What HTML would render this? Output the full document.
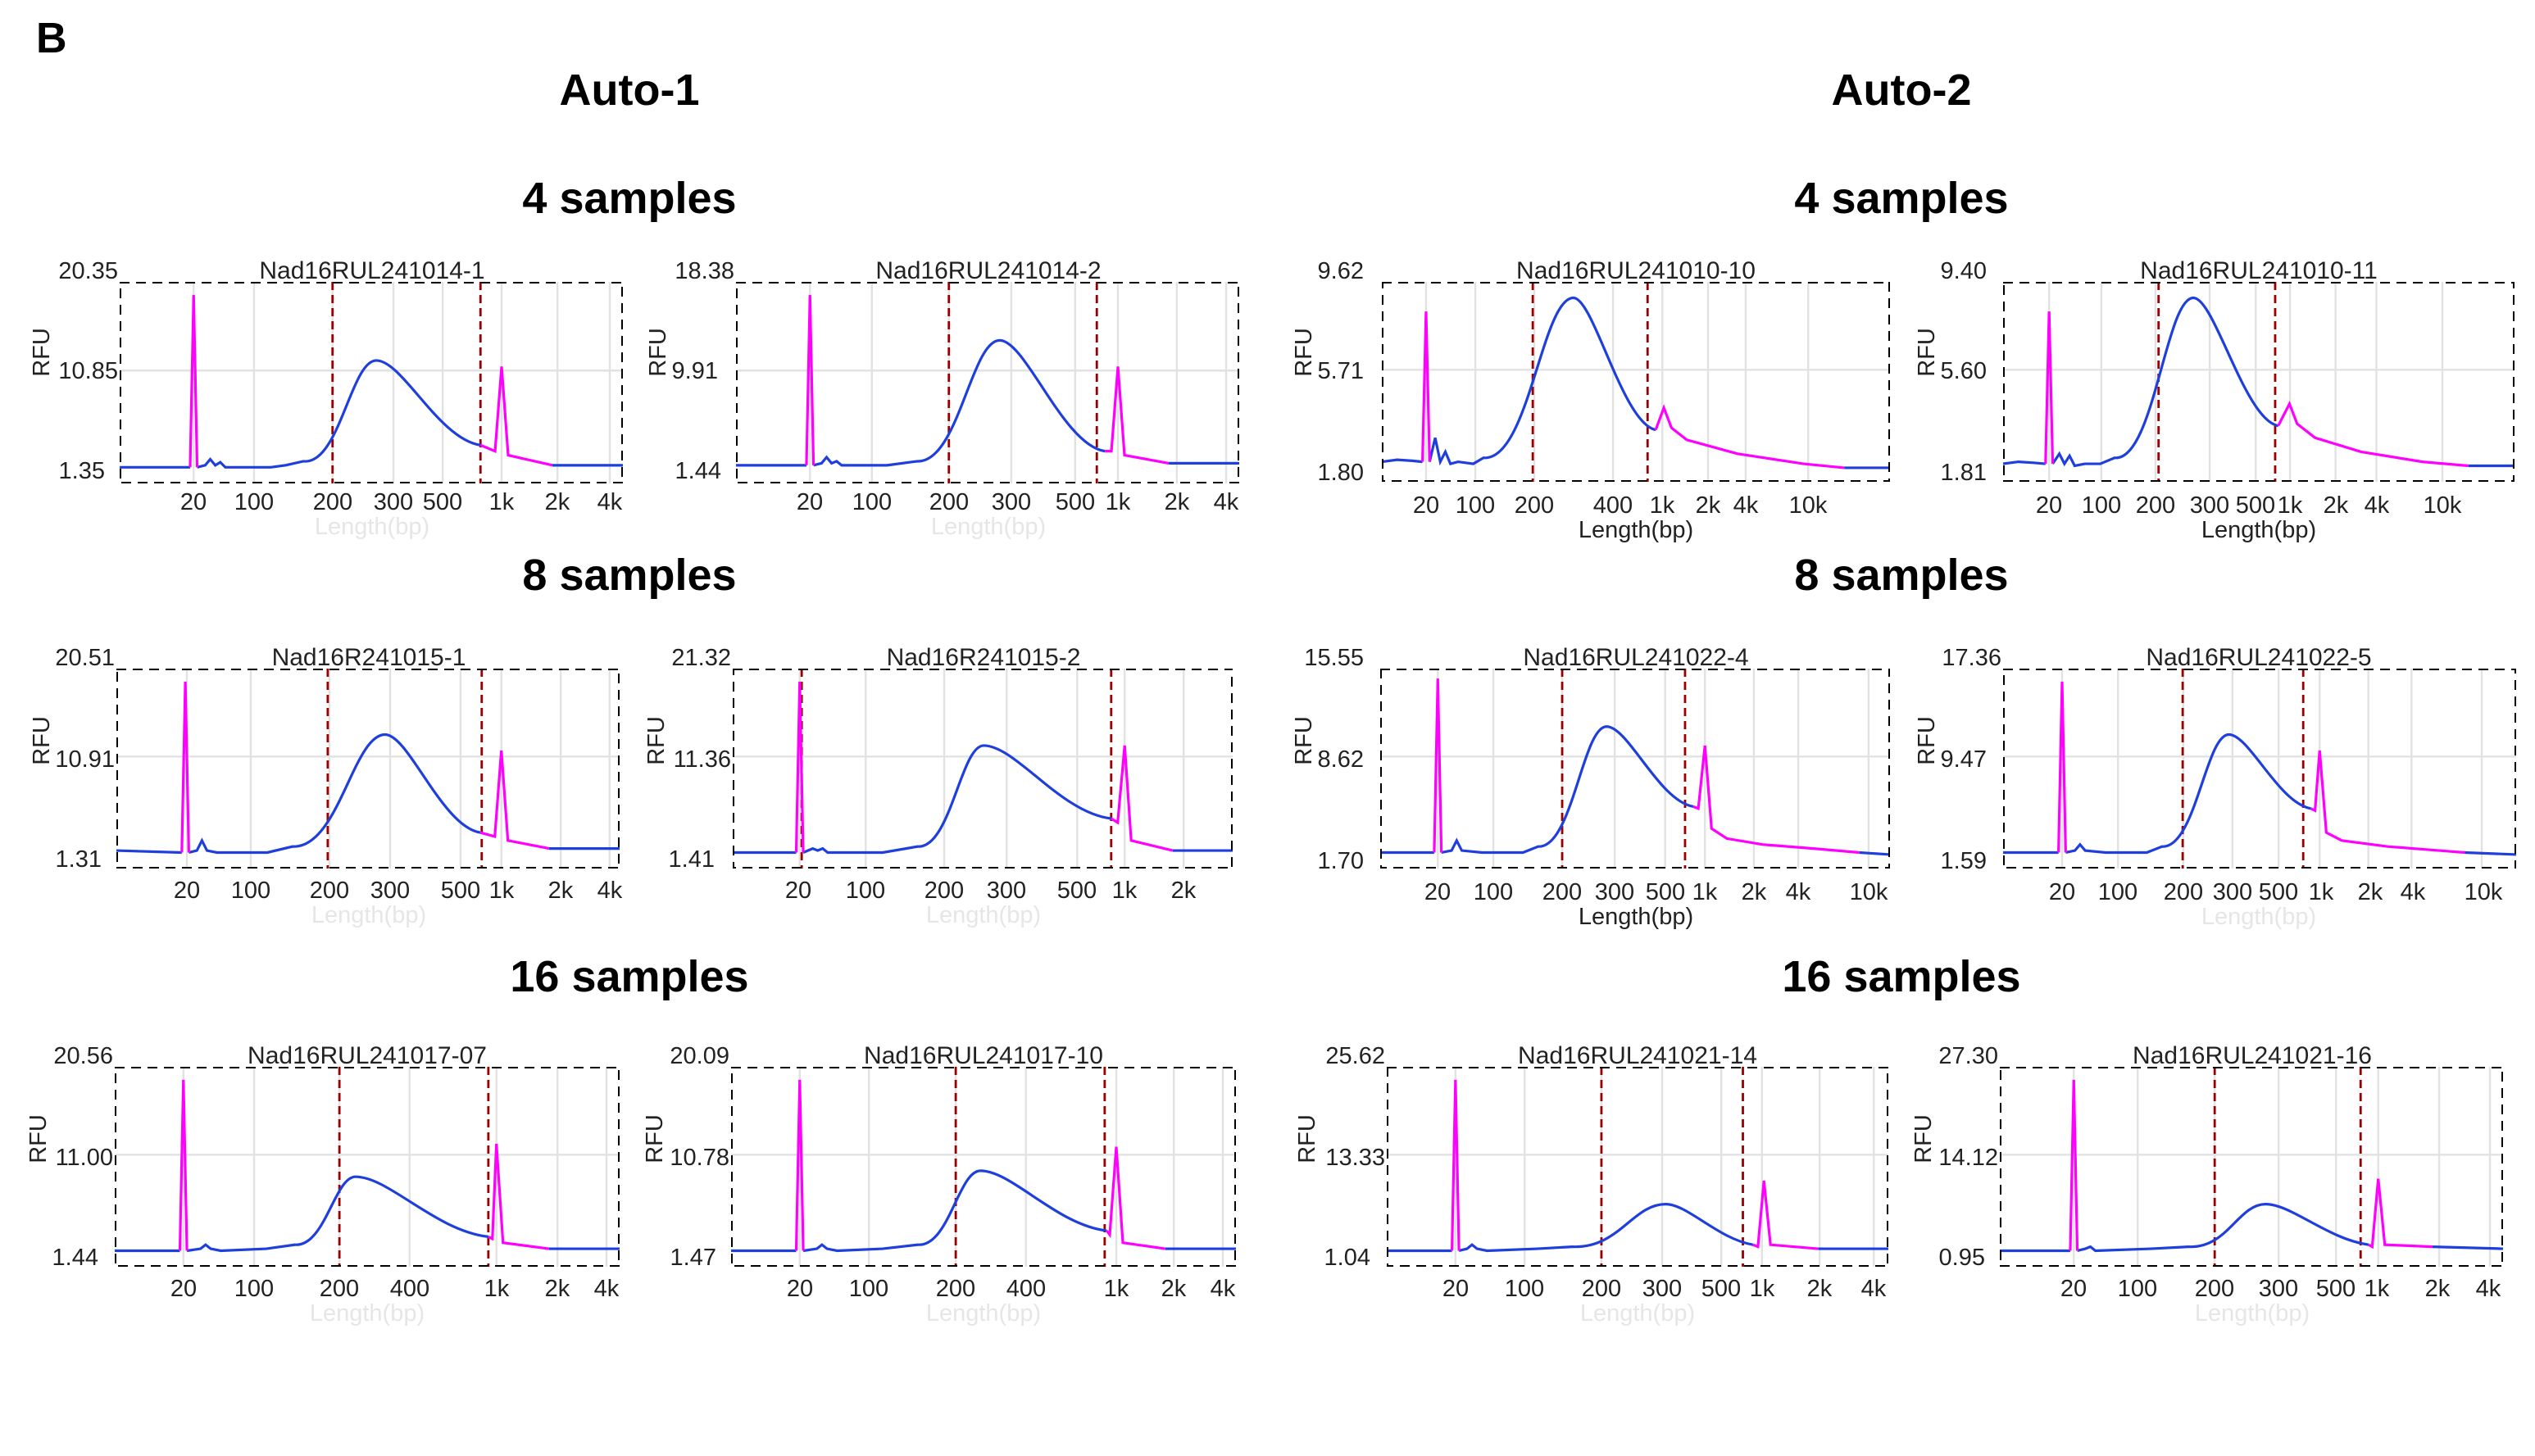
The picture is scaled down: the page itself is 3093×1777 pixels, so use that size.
<!DOCTYPE html>
<html><head><meta charset="utf-8"><style>
html,body{margin:0;padding:0;background:#fff}
svg.p *{vector-effect:non-scaling-stroke;fill:none}
.t{font-family:"Liberation Sans Narrow","Liberation Sans",sans-serif;font-size:14.5px;fill:#222}
.h{font-family:"Liberation Sans",sans-serif;font-weight:bold;font-size:27px;fill:#000;text-anchor:middle}
.b{stroke:#1f3fdc;stroke-width:3.2}
.m{stroke:#ff00ff;stroke-width:3.2}
.r{stroke:#9a0000;stroke-width:2.8;stroke-dasharray:10 6}
.g{stroke:#e2e2e2;stroke-width:2.4}
.bx{stroke:#000;stroke-width:4;stroke-dasharray:12 8}
.c{text-anchor:middle}.e{text-anchor:end}
.lg{fill:#e6e6e6}
</style></head><body>
<svg width="3093" height="1772" viewBox="0 0 1546.5 886" xmlns="http://www.w3.org/2000/svg">
<text x="22" y="32" style="font-family:'Liberation Sans',sans-serif;font-weight:bold;font-size:26px">B</text>
<text class="h" x="384" y="64">Auto-1</text><text class="h" x="1160" y="64">Auto-2</text>
<text class="h" x="384" y="130">4 samples</text><text class="h" x="1160" y="130">4 samples</text>
<text class="h" x="384" y="360">8 samples</text><text class="h" x="1160" y="360">8 samples</text>
<text class="h" x="384" y="605">16 samples</text><text class="h" x="1160" y="605">16 samples</text>

<!-- P1 -->
<g class="t"><text class="c" x="227" y="170" style="font-size:15px">Nad16RUL241014-1</text>
<text class="e" x="72" y="170">20.35</text><text class="e" x="72" y="231">10.85</text><text class="e" x="64" y="292">1.35</text>
<text transform="translate(30,215) rotate(-90)" class="c">RFU</text>
<text class="c" x="118" y="311">20</text><text class="c" x="155" y="311">100</text><text class="c" x="203" y="311">200</text><text class="c" x="240" y="311">300</text><text class="c" x="270" y="311">500</text><text class="c" x="306" y="311">1k</text><text class="c" x="340" y="311">2k</text><text class="c" x="372" y="311">4k</text>
<text class="c lg" x="227" y="326">Length(bp)</text></g>
<svg class="p" x="73" y="172" width="307" height="123" viewBox="0 0 100 100" preserveAspectRatio="none">
<path class="g" d="M14.7,0V100M26.7,0V100M42.3,0V100M54.4,0V100M64.2,0V100M75.9,0V100M87,0V100M97.4,0V100M0,44H100"/>
<path class="r" d="M42.3,0V100M71.7,0V100"/>
<path class="b" d="M0,92L14,92M15.4,92L17,91L18,88L19,91L20,89.5L21,92L30,92L33,91L36.5,89C43.7,91 45.9,39 51,39C56.2,39 63.4,78 71.7,81"/>
<path class="m" d="M14,92L14.7,6.5L15.4,92M71.7,81L74.6,84L75.9,42L77.2,86L86,91"/>
<path class="b" d="M86,91L100,91"/>
<rect class="bx" x="0" y="0" width="100" height="100"/></svg>

<!-- P2 -->
<g class="t"><text class="c" x="603" y="170" style="font-size:15px">Nad16RUL241014-2</text>
<text class="e" x="448" y="170">18.38</text><text class="e" x="438" y="231">9.91</text><text class="e" x="440" y="292">1.44</text>
<text transform="translate(406,215) rotate(-90)" class="c">RFU</text>
<text class="c" x="494" y="311">20</text><text class="c" x="532" y="311">100</text><text class="c" x="579" y="311">200</text><text class="c" x="617" y="311">300</text><text class="c" x="656" y="311">500</text><text class="c" x="682" y="311">1k</text><text class="c" x="718" y="311">2k</text><text class="c" x="748" y="311">4k</text>
<text class="c lg" x="603" y="326">Length(bp)</text></g>
<svg class="p" x="449" y="172" width="307" height="123" viewBox="0 0 100 100" preserveAspectRatio="none">
<path class="g" d="M14.7,0V100M27,0V100M42.3,0V100M54.7,0V100M67.4,0V100M75.9,0V100M87.6,0V100M97.4,0V100M0,44H100"/>
<path class="r" d="M42.3,0V100M71.7,0V100"/>
<path class="b" d="M0,91L14,91M15.4,91L17,90L18,87L19,90L20,89L21,91L30,91L36,89C44.2,90 46.7,29 52.4,29C57.6,29 65,81 73.3,84"/>
<path class="m" d="M14,91L14.7,6.5L15.4,91M73.3,84L74.6,84L75.9,42L77.2,86L86,90"/>
<path class="b" d="M86,90L100,90"/>
<rect class="bx" x="0" y="0" width="100" height="100"/></svg>

<!-- P3 -->
<g class="t"><text class="c" x="998" y="170" style="font-size:15px">Nad16RUL241010-10</text>
<text class="e" x="832" y="170">9.62</text><text class="e" x="832" y="231">5.71</text><text class="e" x="832" y="293">1.80</text>
<text transform="translate(800,215) rotate(-90)" class="c">RFU</text>
<text class="c" x="870" y="313">20</text><text class="c" x="900" y="313">100</text><text class="c" x="936" y="313">200</text><text class="c" x="984" y="313">400</text><text class="c" x="1014" y="313">1k</text><text class="c" x="1042" y="313">2k</text><text class="c" x="1065" y="313">4k</text><text class="c" x="1103" y="313">10k</text>
<text class="c" x="998" y="328">Length(bp)</text></g>
<svg class="p" x="843" y="172" width="310" height="122" viewBox="0 0 100 100" preserveAspectRatio="none">
<path class="g" d="M8.7,0V100M18.4,0V100M30,0V100M45.5,0V100M55.2,0V100M64.2,0V100M71.6,0V100M83.9,0V100M0,44H100"/>
<path class="r" d="M29.7,0V100M52.3,0V100"/>
<path class="b" d="M0,90L3,89L6,89.5L8,90M9.4,90L10.5,78L11.5,90L12.5,85L13.5,91L15,90L18,91L20,88C28.9,90 31.5,8 37.7,8C41.7,8 47.4,71 53.9,74"/>
<path class="m" d="M8,90L8.7,14.8L9.4,90M53.9,74L55.5,63L57,73L60,79L70,86L83,91L91,93"/>
<path class="b" d="M91,93L100,93"/>
<rect class="bx" x="0" y="0" width="100" height="100"/></svg>

<!-- P4 -->
<g class="t"><text class="c" x="1378" y="170" style="font-size:15px">Nad16RUL241010-11</text>
<text class="e" x="1212" y="170">9.40</text><text class="e" x="1212" y="231">5.60</text><text class="e" x="1212" y="293">1.81</text>
<text transform="translate(1180,215) rotate(-90)" class="c">RFU</text>
<text class="c" x="1250" y="313">20</text><text class="c" x="1282" y="313">100</text><text class="c" x="1315" y="313">200</text><text class="c" x="1348" y="313">300</text><text class="c" x="1376" y="313">500</text><text class="c" x="1397" y="313">1k</text><text class="c" x="1425" y="313">2k</text><text class="c" x="1450" y="313">4k</text><text class="c" x="1490" y="313">10k</text>
<text class="c" x="1378" y="328">Length(bp)</text></g>
<svg class="p" x="1222" y="172" width="312" height="122" viewBox="0 0 100 100" preserveAspectRatio="none">
<path class="g" d="M9,0V100M19.2,0V100M29.8,0V100M40.4,0V100M49.4,0V100M56.1,0V100M65,0V100M73,0V100M85.9,0V100M0,44H100"/>
<path class="r" d="M30.4,0V100M53.2,0V100"/>
<path class="b" d="M0,91L3,90L6,90.5L8.3,91M9.7,91L11,86L12,91L13,87L14,92L16,91L19,91L21.8,88C29.5,90 31.8,8 37.2,8C41.4,8 47.2,69 53.8,72"/>
<path class="m" d="M8.3,91L9,14.8L9.7,91M53.8,72L56,61L57.5,71L61,78L70,85L82,90L91,92"/>
<path class="b" d="M91,92L100,92"/>
<rect class="bx" x="0" y="0" width="100" height="100"/></svg>

<!-- P5 -->
<g class="t"><text class="c" x="225" y="406" style="font-size:15px">Nad16R241015-1</text>
<text class="e" x="70" y="406">20.51</text><text class="e" x="70" y="468">10.91</text><text class="e" x="62" y="529">1.31</text>
<text transform="translate(30,452) rotate(-90)" class="c">RFU</text>
<text class="c" x="114" y="548">20</text><text class="c" x="153" y="548">100</text><text class="c" x="201" y="548">200</text><text class="c" x="238" y="548">300</text><text class="c" x="281" y="548">500</text><text class="c" x="306" y="548">1k</text><text class="c" x="342" y="548">2k</text><text class="c" x="372" y="548">4k</text>
<text class="c lg" x="225" y="563">Length(bp)</text></g>
<svg class="p" x="71" y="408" width="307" height="122" viewBox="0 0 100 100" preserveAspectRatio="none">
<path class="g" d="M14,0V100M26.7,0V100M42.3,0V100M54.4,0V100M68.4,0V100M76.5,0V100M88.3,0V100M98,0V100M0,44H100"/>
<path class="r" d="M42,0V100M72.6,0V100"/>
<path class="b" d="M0,91L13,92M14.4,92L16,91L17,86L18,91L20,92L30,92L35,89C44.2,90 47,33 53.4,33C58.1,33 64.7,79 72.3,82"/>
<path class="m" d="M13,92L13.7,6.5L14.4,92M72.3,82L75.2,84L76.5,41L77.8,86L86,90"/>
<path class="b" d="M86,90L100,90"/>
<rect class="bx" x="0" y="0" width="100" height="100"/></svg>

<!-- P6 -->
<g class="t"><text class="c" x="600" y="406" style="font-size:15px">Nad16R241015-2</text>
<text class="e" x="446" y="406">21.32</text><text class="e" x="446" y="468">11.36</text><text class="e" x="436" y="529">1.41</text>
<text transform="translate(405,452) rotate(-90)" class="c">RFU</text>
<text class="c" x="487" y="548">20</text><text class="c" x="528" y="548">100</text><text class="c" x="576" y="548">200</text><text class="c" x="614" y="548">300</text><text class="c" x="657" y="548">500</text><text class="c" x="686" y="548">1k</text><text class="c" x="722" y="548">2k</text>
<text class="c lg" x="600" y="563">Length(bp)</text></g>
<svg class="p" x="447" y="408" width="305" height="122" viewBox="0 0 100 100" preserveAspectRatio="none">
<path class="g" d="M13.4,0V100M26.6,0V100M42.3,0V100M54.8,0V100M68.9,0V100M78.4,0V100M90.2,0V100M0,44H100"/>
<path class="r" d="M13.8,0V100M75.7,0V100"/>
<path class="b" d="M0,92L12.7,92M14.1,92L16,90L17,91L18,90L19,92L30,92L37,89C43.6,90 45.6,38.5 50.2,38.5C56.6,38.5 65.5,72 75.7,75"/>
<path class="m" d="M12.7,92L13.4,6.5L14.1,92M75.7,75L77,77L78.4,38.5L79.7,86L88,91"/>
<path class="b" d="M88,91L100,91"/>
<rect class="bx" x="0" y="0" width="100" height="100"/></svg>

<!-- P7 -->
<g class="t"><text class="c" x="998" y="406" style="font-size:15px">Nad16RUL241022-4</text>
<text class="e" x="832" y="406">15.55</text><text class="e" x="832" y="468">8.62</text><text class="e" x="832" y="530">1.70</text>
<text transform="translate(800,452) rotate(-90)" class="c">RFU</text>
<text class="c" x="877" y="549">20</text><text class="c" x="911" y="549">100</text><text class="c" x="953" y="549">200</text><text class="c" x="985" y="549">300</text><text class="c" x="1016" y="549">500</text><text class="c" x="1040" y="549">1k</text><text class="c" x="1070" y="549">2k</text><text class="c" x="1097" y="549">4k</text><text class="c" x="1140" y="549">10k</text>
<text class="c" x="998" y="564">Length(bp)</text></g>
<svg class="p" x="842" y="408" width="311" height="122" viewBox="0 0 100 100" preserveAspectRatio="none">
<path class="g" d="M11.3,0V100M22.2,0V100M35.7,0V100M46,0V100M55.9,0V100M63.7,0V100M73.3,0V100M82,0V100M95.8,0V100M0,44H100"/>
<path class="r" d="M35.7,0V100M59.8,0V100"/>
<path class="b" d="M0,92L10.6,92M12,92L14,91L15,86L16,91L20,92L28,92L31,89C37.7,90 39.7,29 44.4,29C48.7,29 54.6,66 61.4,69"/>
<path class="m" d="M10.6,92L11.3,5L12,92M61.4,69L62.4,70L63.7,38.5L65,80L68,85L75,88L85,90L94,92"/>
<path class="b" d="M94,92L100,93"/>
<rect class="bx" x="0" y="0" width="100" height="100"/></svg>

<!-- P8 -->
<g class="t"><text class="c" x="1378" y="406" style="font-size:15px">Nad16RUL241022-5</text>
<text class="e" x="1221" y="406">17.36</text><text class="e" x="1212" y="468">9.47</text><text class="e" x="1212" y="530">1.59</text>
<text transform="translate(1180,452) rotate(-90)" class="c">RFU</text>
<text class="c" x="1258" y="549">20</text><text class="c" x="1292" y="549">100</text><text class="c" x="1332" y="549">200</text><text class="c" x="1362" y="549">300</text><text class="c" x="1390" y="549">500</text><text class="c" x="1416" y="549">1k</text><text class="c" x="1446" y="549">2k</text><text class="c" x="1472" y="549">4k</text><text class="c" x="1515" y="549">10k</text>
<text class="c lg" x="1378" y="564">Length(bp)</text></g>
<svg class="p" x="1222" y="408" width="313" height="122" viewBox="0 0 100 100" preserveAspectRatio="none">
<path class="g" d="M11.5,0V100M22.4,0V100M35.1,0V100M44.7,0V100M53.7,0V100M61.7,0V100M71.2,0V100M79.6,0V100M93.3,0V100M0,44H100"/>
<path class="r" d="M35,0V100M58.5,0V100"/>
<path class="b" d="M0,92L10.8,92M12.2,92L14,91L15,88L16,91L20,92L28,92L31,89C37.5,90 39.5,33 44,33C48,33 53.6,67 60,70"/>
<path class="m" d="M10.8,92L11.5,6.5L12.2,92M60,70L60.8,71L61.7,41L63,82L66,86L75,89L85,91L90,92"/>
<path class="b" d="M90,92L100,93"/>
<rect class="bx" x="0" y="0" width="100" height="100"/></svg>

<!-- P9 -->
<g class="t"><text class="c" x="224" y="649" style="font-size:15px">Nad16RUL241017-07</text>
<text class="e" x="69" y="649">20.56</text><text class="e" x="69" y="711">11.00</text><text class="e" x="60" y="772">1.44</text>
<text transform="translate(28,695) rotate(-90)" class="c">RFU</text>
<text class="c" x="112" y="791">20</text><text class="c" x="155" y="791">100</text><text class="c" x="207" y="791">200</text><text class="c" x="250" y="791">400</text><text class="c" x="303" y="791">1k</text><text class="c" x="340" y="791">2k</text><text class="c" x="370" y="791">4k</text>
<text class="c lg" x="224" y="806">Length(bp)</text></g>
<svg class="p" x="70" y="651" width="308" height="122" viewBox="0 0 100 100" preserveAspectRatio="none">
<path class="g" d="M13.6,0V100M27.6,0V100M44.5,0V100M58.4,0V100M75.6,0V100M87.7,0V100M97.4,0V100M0,44H100"/>
<path class="r" d="M44.5,0V100M74,0V100"/>
<path class="b" d="M0,92L12.9,92M14.3,92L17,91L18,89L19,91L21,92L30,91L35.7,89C41.7,90 43.5,55 47.7,55C54.3,55 63.5,82 74,85"/>
<path class="m" d="M12.9,92L13.6,6.5L14.3,92M74,85L74.8,86L75.6,38.5L76.9,88L86,91"/>
<path class="b" d="M86,91L100,91"/>
<rect class="bx" x="0" y="0" width="100" height="100"/></svg>

<!-- P10 -->
<g class="t"><text class="c" x="600" y="649" style="font-size:15px">Nad16RUL241017-10</text>
<text class="e" x="445" y="649">20.09</text><text class="e" x="445" y="711">10.78</text><text class="e" x="437" y="772">1.47</text>
<text transform="translate(404,695) rotate(-90)" class="c">RFU</text>
<text class="c" x="488" y="791">20</text><text class="c" x="530" y="791">100</text><text class="c" x="583" y="791">200</text><text class="c" x="626" y="791">400</text><text class="c" x="681" y="791">1k</text><text class="c" x="716" y="791">2k</text><text class="c" x="746" y="791">4k</text>
<text class="c lg" x="600" y="806">Length(bp)</text></g>
<svg class="p" x="446" y="651" width="308" height="122" viewBox="0 0 100 100" preserveAspectRatio="none">
<path class="g" d="M13.6,0V100M27.3,0V100M44.5,0V100M58.4,0V100M76.3,0V100M87.7,0V100M97.4,0V100M0,44H100"/>
<path class="r" d="M44.5,0V100M74,0V100"/>
<path class="b" d="M0,92L12.9,92M14.3,92L17,91L18,89L19,91L21,92L30,91L37,89C43.2,90 45,52 49.4,52C55.7,52 64.4,79 74.4,82"/>
<path class="m" d="M12.9,92L13.6,6.5L14.3,92M74.4,82L75,84L76.3,40L77.6,88L86,91"/>
<path class="b" d="M86,91L100,91"/>
<rect class="bx" x="0" y="0" width="100" height="100"/></svg>

<!-- P11 -->
<g class="t"><text class="c" x="999" y="649" style="font-size:15px">Nad16RUL241021-14</text>
<text class="e" x="845" y="649">25.62</text><text class="e" x="845" y="711">13.33</text><text class="e" x="836" y="772">1.04</text>
<text transform="translate(802,695) rotate(-90)" class="c">RFU</text>
<text class="c" x="888" y="791">20</text><text class="c" x="930" y="791">100</text><text class="c" x="977" y="791">200</text><text class="c" x="1014" y="791">300</text><text class="c" x="1050" y="791">500</text><text class="c" x="1075" y="791">1k</text><text class="c" x="1110" y="791">2k</text><text class="c" x="1143" y="791">4k</text>
<text class="c lg" x="999" y="806">Length(bp)</text></g>
<svg class="p" x="846" y="651" width="306" height="122" viewBox="0 0 100 100" preserveAspectRatio="none">
<path class="g" d="M13.7,0V100M27.5,0V100M42.8,0V100M54.9,0V100M66.7,0V100M74.8,0V100M86.3,0V100M97.1,0V100M0,44H100"/>
<path class="r" d="M42.8,0V100M71,0V100"/>
<path class="b" d="M0,92L13,92M14.4,92L16,91L17,89L18,91L20,92L30,91L37,90C46.3,91 49,68.7 55.6,68.7C60,68.7 66,86 73,89"/>
<path class="m" d="M13,92L13.7,6.5L14.4,92M73,89L74,90L75.2,57L76.5,89L86,91"/>
<path class="b" d="M86,91L100,91"/>
<rect class="bx" x="0" y="0" width="100" height="100"/></svg>

<!-- P12 -->
<g class="t"><text class="c" x="1374" y="649" style="font-size:15px">Nad16RUL241021-16</text>
<text class="e" x="1219" y="649">27.30</text><text class="e" x="1219" y="711">14.12</text><text class="e" x="1211" y="772">0.95</text>
<text transform="translate(1178,695) rotate(-90)" class="c">RFU</text>
<text class="c" x="1265" y="791">20</text><text class="c" x="1304" y="791">100</text><text class="c" x="1351" y="791">200</text><text class="c" x="1390" y="791">300</text><text class="c" x="1425" y="791">500</text><text class="c" x="1450" y="791">1k</text><text class="c" x="1487" y="791">2k</text><text class="c" x="1518" y="791">4k</text>
<text class="c lg" x="1374" y="806">Length(bp)</text></g>
<svg class="p" x="1220" y="651" width="307" height="122" viewBox="0 0 100 100" preserveAspectRatio="none">
<path class="g" d="M14.7,0V100M27.4,0V100M42.7,0V100M55.4,0V100M66.8,0V100M75.2,0V100M87.3,0V100M97.4,0V100M0,44H100"/>
<path class="r" d="M42.7,0V100M71.7,0V100"/>
<path class="b" d="M0,92L14,92M15.4,92L17,91L18,90L19,92L30,91L37.5,90C45.2,91 47.4,68.7 52.8,68.7C58,68.7 65,86 73.3,89"/>
<path class="m" d="M14,92L14.7,6.5L15.4,92M73.3,89L74,90L75.2,56L76.5,89L86,90"/>
<path class="b" d="M86,90L100,91"/>
<rect class="bx" x="0" y="0" width="100" height="100"/></svg>
</svg>
</body></html>
